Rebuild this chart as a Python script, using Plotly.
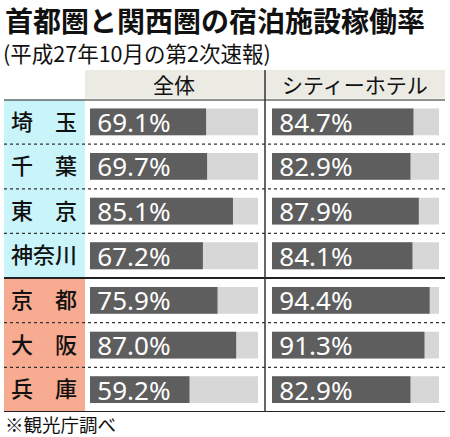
import plotly.graph_objects as go

# データ
prefectures = ['埼　玉', '千　葉', '東　京', '神奈川', '京　都', '大　阪', '兵　庫']
zentai = [69.1, 69.7, 85.1, 67.2, 75.9, 87.0, 59.2]
city_hotel = [84.7, 82.9, 87.9, 84.1, 94.4, 91.3, 82.9]
columns = ['全体', 'シティーホテル']

W, H = 450, 437


def px_x(v):
    return v / W


def px_y(v):
    return 1 - v / H


rows = list(range(len(prefectures)))
fig = go.Figure()

# 背景のトラック (100%) と値のバー
for vals, xa in [(zentai, 'x'), (city_hotel, 'x2')]:
    fig.add_trace(go.Bar(
        x=[100] * len(vals), y=rows, orientation='h', xaxis=xa, yaxis='y',
        marker=dict(color='#d7d7d7', line=dict(width=0)), width=0.6,
        hoverinfo='skip', showlegend=False
    ))
    fig.add_trace(go.Bar(
        x=vals, y=rows, orientation='h', xaxis=xa, yaxis='y',
        marker=dict(color='#5e5e5e', line=dict(width=0)), width=0.6,
        text=[f'\u2009{v:.1f}%' for v in vals], textposition='inside',
        insidetextanchor='start', constraintext='none',
        textfont=dict(family='Noto Sans', size=26, color='white'),
        showlegend=False
    ))

fig.update_layout(
    width=W, height=H,
    margin=dict(l=0, r=0, t=0, b=0),
    paper_bgcolor='white', plot_bgcolor='rgba(0,0,0,0)',
    barmode='overlay',
    xaxis=dict(domain=[px_x(90), px_x(258)], range=[0, 100], visible=False, fixedrange=True),
    xaxis2=dict(domain=[px_x(272), px_x(439)], range=[0, 100], visible=False, fixedrange=True),
    yaxis=dict(domain=[px_y(412), px_y(99.5)], range=[6.5, -0.5],
               tickvals=rows, ticktext=prefectures, ticks='', showgrid=False,
               zeroline=False, showline=False, ticklabelstandoff=12,
               tickfont=dict(family='Noto Sans CJK JP', size=22, color='#111', weight=500)),
    font=dict(family='Noto Sans CJK JP'),
)

shapes = []
# 左側のラベル背景
shapes.append(dict(type='rect', xref='paper', yref='y', x0=px_x(4), x1=px_x(85),
                   y0=-0.5, y1=3.5, fillcolor='#c9f4fa', line=dict(width=0), layer='below'))
shapes.append(dict(type='rect', xref='paper', yref='y', x0=px_x(4), x1=px_x(85),
                   y0=3.5, y1=6.5, fillcolor='#f7ab90', line=dict(width=0), layer='below'))
# ヘッダー背景
shapes.append(dict(type='rect', xref='paper', yref='paper', x0=px_x(85), x1=px_x(445),
                   y0=px_y(98.5), y1=px_y(70), fillcolor='#ebeae3', line=dict(width=0), layer='below'))
# 区切り線
for yb in [0.5, 1.5, 2.5, 4.5, 5.5]:
    shapes.append(dict(type='line', xref='paper', yref='y', x0=px_x(4), x1=px_x(445),
                       y0=yb, y1=yb, line=dict(color='#333', width=1.2, dash='dot')))
for yb in [-0.5, 3.5, 6.5]:
    shapes.append(dict(type='line', xref='paper', yref='y', x0=px_x(4), x1=px_x(445),
                       y0=yb, y1=yb, line=dict(color='#222', width=2)))
shapes.append(dict(type='line', xref='paper', yref='paper', x0=px_x(265), x1=px_x(265),
                   y0=px_y(412), y1=px_y(70), line=dict(color='#333', width=1.5)))
fig.update_layout(shapes=shapes)

annotations = [
    dict(text='<b>首都圏と関西圏の宿泊施設稼働率</b>', x=px_x(3), y=px_y(19.5),
         font=dict(size=28, color='#111', weight=900)),
    dict(text='(平成27年10月の第2次速報)', x=px_x(1), y=px_y(53),
         font=dict(size=21.5, color='#111')),
    dict(text='※観光庁調べ', x=px_x(3), y=px_y(423.5),
         font=dict(size=18.5, color='#111')),
]
for a in annotations:
    a.update(xref='paper', yref='paper', xanchor='left', yanchor='middle', showarrow=False)
for name, cx in zip(columns, [174, 355]):
    annotations.append(dict(text=name, x=px_x(cx), y=px_y(84), xref='paper', yref='paper',
                            xanchor='center', yanchor='middle', showarrow=False,
                            font=dict(size=21, color='#111')))
fig.update_layout(annotations=annotations)

fig.write_html('out.html', config={'displayModeBar': False},
               post_script="document.body.style.margin='0';document.body.style.overflow='hidden';")
